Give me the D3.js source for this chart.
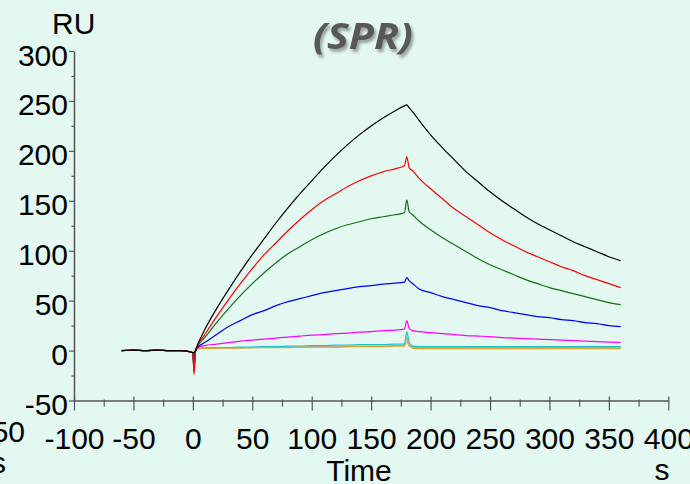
<!DOCTYPE html>
<html>
<head>
<meta charset="utf-8">
<script src="https://cdn.jsdelivr.net/npm/d3@7"></script>
<style>
  html, body { margin: 0; padding: 0; background: #e4f8f2; overflow: hidden; }
  #chart { width: 690px; height: 484px; }
</style>
</head>
<body>
<div id="chart"></div>
<script>
// sampling times (s) shared by every sensorgram
const times = [-60, -50, -40, -30, -20, -10, -3, 0, 1, 2, 4,
    10, 20, 30, 40, 50, 60, 70, 80, 90, 100, 110, 120, 130, 140, 150, 160, 170,
    178, 180, 182, 185,
    190, 200, 210, 220, 230, 240, 250, 260, 270, 280, 290, 300, 310, 320, 330, 340, 350, 360];

const pre = [0, 0.5, 0, 0.5, 0, 0, -1];

const blackRU = [...pre, -2, -2, 0, 6,
    21, 42, 61, 79, 96, 112, 128, 143, 157, 170, 183, 195, 206, 216, 225, 233, 240,
    245, 246, 243, 239,
    231, 216, 203, 191, 179, 169, 159, 150, 142, 134, 127, 121, 115, 109, 104, 99, 94, 90];

const redRU = [...pre, -2, -24, -2, 5,
    16, 34, 51, 67, 82, 96, 108, 120, 131, 141, 150, 157, 164, 170, 175, 179, 182,
    185, 194, 183, 180,
    173, 162, 152, 142, 134, 126, 118, 111, 105, 99, 94, 89, 84, 80, 75, 71, 67, 63];

const greenRU = [...pre, -2, -18, -2, 4,
    13, 28, 42, 55, 67, 78, 88, 97, 104, 111, 117, 122, 126, 129, 132, 134, 136,
    138, 151, 139, 136,
    130, 121, 113, 106, 99, 92, 86, 81, 76, 71, 67, 63, 60, 57, 54, 51, 48, 46];

const blueRU = [...pre, -2, -20, -2, 3,
    8, 16, 24, 30, 36, 40, 45, 49, 52, 55, 58, 60, 62, 64, 65, 66.5, 67.5,
    68.5, 73, 70, 67,
    62, 58, 54, 51, 48, 45, 43, 40, 38, 36, 34, 33, 31, 30, 28, 27, 25, 24];

const magentaRU = [...pre, -2, -15, -1, 3,
    5, 6.5, 8, 9.5, 10.5, 11.5, 12.5, 13.5, 14.5, 15.5, 16, 17, 17.5, 18.5, 19, 20, 20.5,
    21.5, 30, 22, 20,
    19, 18, 17, 16, 15, 14.5, 14, 13, 12.5, 12, 11.5, 11, 10.5, 10, 9.5, 9, 8.5, 8];

const cyanRU = [...pre, -2, -20, -1, 2,
    2.5, 3, 3, 3.5, 3.5, 4, 4, 4.5, 4.5, 5, 5, 5.5, 5.5, 6, 6, 6, 6.5,
    6.5, 19, 8, 4.5,
    4, 4, 4, 4, 4, 4, 4, 4, 4, 4, 4, 4, 4, 4, 4, 4, 4, 4];

const orangeRU = [...pre, -2, -22, -1, 2,
    2, 2.5, 2.5, 2.5, 3, 3, 3, 3, 3.5, 3.5, 3.5, 3.5, 4, 4, 4, 4, 4.5,
    4.5, 13, 5, 2.5,
    2, 2, 2, 2, 2, 2, 2, 2, 2, 2, 2, 2, 2, 2, 2, 2, 2, 2];

const lavenderRU = [...pre, -2, -21, -1, 2,
    2.5, 3, 3, 3, 3, 3.5, 3.5, 3.5, 3.5, 4, 4, 4, 4, 4.5, 4.5, 4.5, 5,
    5, 9, 5, 3.5,
    3, 3, 3, 3, 3, 3, 3, 3, 3, 3, 3, 3, 3, 3, 3, 3, 3, 3];

const xTicks = [-100, -50, 0, 50, 100, 150, 200, 250, 300, 350, 400];
const yTicks = [-50, 0, 50, 100, 150, 200, 250, 300];

const series = [
    { color: '#a8a8dc', values: lavenderRU },
    { color: '#19c3cf', values: cyanRU },
    { color: '#dea42c', values: orangeRU },
    { color: '#ff00ff', values: magentaRU },
    { color: '#0000ff', values: blueRU },
    { color: '#146e14', values: greenRU },
    { color: '#ff0000', values: redRU },
    { color: '#000000', values: blackRU }
];

const width = 690, height = 484;
const font = "'Liberation Sans', Arial, sans-serif";
const axisColor = '#555';
const plain = d => String(d);   // hyphen minus like the original, not U+2212

const svg = d3.select('#chart').append('svg')
    .attr('width', width)
    .attr('height', height)
    .attr('viewBox', `0 0 ${width} ${height}`);

svg.append('rect').attr('width', width).attr('height', height).attr('fill', '#e4f8f2');

const defs = svg.append('defs');
defs.append('filter')
    .attr('id', 'shadow')
    .attr('x', '-20%').attr('y', '-20%').attr('width', '140%').attr('height', '150%')
    .append('feDropShadow')
    .attr('dx', 2).attr('dy', 3)
    .attr('stdDeviation', 1.6)
    .attr('flood-color', '#000')
    .attr('flood-opacity', 0.35);

const x = d3.scaleLinear().domain([-100, 400]).range([74, 668.3]);
const y = d3.scaleLinear().domain([-50, 300]).range([400.5, 51]);

// x axis
const xAxis = svg.append('g')
    .attr('transform', `translate(0,${y(-50)})`)
    .call(d3.axisBottom(x).tickValues(xTicks).tickFormat(plain).tickSizeInner(10).tickSizeOuter(0));
xAxis.select('.domain').attr('stroke', axisColor).attr('stroke-width', 1.5);
xAxis.selectAll('.tick line').attr('stroke', axisColor).attr('stroke-width', 1.2).attr('y1', -4);
xAxis.selectAll('.tick text')
    .attr('y', 48.5).attr('dy', 0)
    .attr('fill', '#000')
    .style('font-family', font).style('font-size', '30px');

svg.append('g')
    .attr('transform', `translate(0,${y(-50)})`)
    .call(d3.axisBottom(x).tickValues(xTicks.slice(0, -1).map(d => d + 25)).tickSize(6).tickFormat(''))
    .call(g => g.select('.domain').remove())
    .call(g => g.selectAll('.tick line').attr('stroke', axisColor).attr('stroke-width', 1.2).attr('y1', -1));

// y axis
const yAxis = svg.append('g')
    .attr('transform', `translate(${x(-100)},0)`)
    .call(d3.axisLeft(y).tickValues(yTicks).tickFormat(plain).tickSizeInner(5).tickSizeOuter(0));
yAxis.select('.domain').attr('stroke', axisColor).attr('stroke-width', 1.5);
yAxis.selectAll('.tick line').attr('stroke', axisColor).attr('stroke-width', 1.2);
yAxis.selectAll('.tick text')
    .attr('x', -6).attr('y', 14).attr('dy', 0)
    .attr('fill', '#000')
    .style('font-family', font).style('font-size', '30px');

svg.append('g')
    .attr('transform', `translate(${x(-100)},0)`)
    .call(d3.axisLeft(y).tickValues(yTicks.slice(0, -1).map(d => d + 25)).tickSize(2.5).tickFormat(''))
    .call(g => g.select('.domain').remove())
    .call(g => g.selectAll('.tick line').attr('stroke', axisColor).attr('stroke-width', 1.2));

// sensorgrams
const line = d3.line()
    .x((d, i) => x(times[i]))
    .y(d => y(d))
    .curve(d3.curveMonotoneX);

svg.append('g').selectAll('path')
    .data(series)
    .enter()
    .append('path')
    .attr('d', d => line(d.values))
    .attr('fill', 'none')
    .attr('stroke', d => d.color)
    .attr('stroke-width', 1.2)
    .attr('stroke-linejoin', 'round');

// labels
const label = (txt, px, py, anchor, size) => svg.append('text')
    .text(txt)
    .attr('x', px).attr('y', py)
    .attr('text-anchor', anchor)
    .attr('fill', '#000')
    .style('font-family', font)
    .style('font-size', size + 'px');

label('RU', 52, 34, 'start', 30);
label('Time', 359, 481, 'middle', 30);
label('s', 662, 480, 'middle', 30);
// pieces of a neighbouring chart left at the edge
label('-150', 25, 442, 'end', 30);
label('s', 6, 473, 'end', 30);

svg.append('text')
    .text('(SPR)')
    .attr('x', 363).attr('y', 49)
    .attr('text-anchor', 'middle')
    .attr('textLength', 100)
    .attr('lengthAdjust', 'spacingAndGlyphs')
    .attr('fill', '#595959')
    .attr('filter', 'url(#shadow)')
    .style('font-family', "'Open Sans', sans-serif")
    .style('font-weight', 'bold')
    .style('font-style', 'italic')
    .style('font-size', '36px');
</script>
</body>
</html>
